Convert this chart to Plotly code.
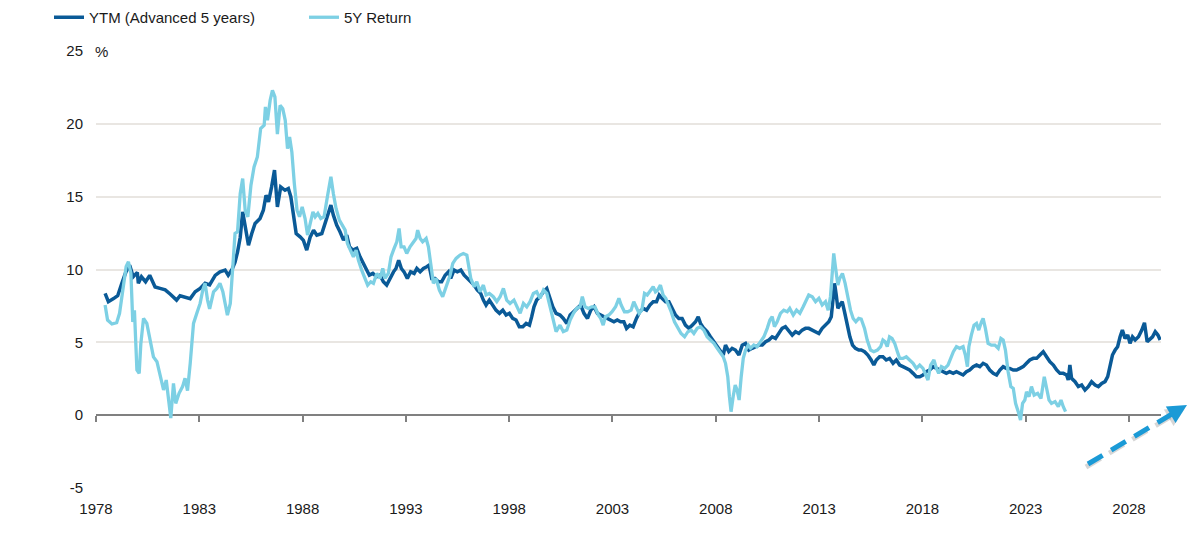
import plotly.graph_objects as go

# ---------------- data ----------------
ytm_years = [
    1978.44, 1978.60, 1978.85, 1979.05, 1979.25, 1979.45, 1979.63, 1979.80, 1980.00, 1980.05,
    1980.20, 1980.40, 1980.60, 1980.86, 1981.10, 1981.35, 1981.60, 1981.90, 1982.07, 1982.30,
    1982.56, 1982.80, 1983.04, 1983.28, 1983.50, 1983.77, 1984.00, 1984.25, 1984.40, 1984.57,
    1984.73, 1984.85, 1984.98, 1985.10, 1985.22, 1985.38, 1985.54, 1985.70, 1985.94, 1986.10,
    1986.23, 1986.35, 1986.50, 1986.64, 1986.78, 1986.94, 1987.15, 1987.31, 1987.43, 1987.56,
    1987.69, 1987.88, 1988.04, 1988.20, 1988.37, 1988.53, 1988.69, 1988.93, 1989.09, 1989.25,
    1989.37, 1989.49, 1989.65, 1989.81, 1989.98, 1990.14, 1990.27, 1990.43, 1990.62, 1990.78,
    1990.94, 1991.10, 1991.23, 1991.40, 1991.59, 1991.75, 1991.91, 1992.07, 1992.23, 1992.40,
    1992.52, 1992.65, 1992.78, 1992.91, 1993.07, 1993.23, 1993.40, 1993.53, 1993.69, 1993.85,
    1994.01, 1994.12, 1994.25, 1994.41, 1994.57, 1994.73, 1994.90, 1995.06, 1995.17, 1995.33,
    1995.49, 1995.66, 1995.82, 1995.98, 1996.14, 1996.30, 1996.46, 1996.62, 1996.75, 1996.88,
    1997.04, 1997.20, 1997.36, 1997.53, 1997.69, 1997.85, 1998.01, 1998.17, 1998.33, 1998.49,
    1998.66, 1998.82, 1998.98, 1999.09, 1999.20, 1999.33, 1999.49, 1999.66, 1999.82, 1999.95,
    2000.11, 2000.27, 2000.46, 2000.62, 2000.79, 2000.95, 2001.11, 2001.27, 2001.46, 2001.62,
    2001.79, 2001.95, 2002.11, 2002.27, 2002.43, 2002.58, 2002.74, 2002.90, 2003.07, 2003.23,
    2003.39, 2003.55, 2003.68, 2003.84, 2004.00, 2004.16, 2004.32, 2004.49, 2004.65, 2004.81,
    2004.97, 2005.13, 2005.26, 2005.40, 2005.57, 2005.73, 2005.89, 2006.05, 2006.21, 2006.37,
    2006.53, 2006.70, 2006.86, 2007.02, 2007.15, 2007.26, 2007.42, 2007.58, 2007.74, 2007.91,
    2008.07, 2008.23, 2008.36, 2008.47, 2008.63, 2008.79, 2008.95, 2009.12, 2009.28, 2009.44,
    2009.60, 2009.76, 2009.92, 2010.08, 2010.25, 2010.41, 2010.57, 2010.73, 2010.89, 2011.05,
    2011.21, 2011.37, 2011.54, 2011.70, 2011.86, 2012.02, 2012.18, 2012.34, 2012.50, 2012.67,
    2012.83, 2012.99, 2013.15, 2013.31, 2013.47, 2013.59, 2013.67, 2013.75, 2013.83, 2013.91,
    2014.00, 2014.12, 2014.23, 2014.36, 2014.49, 2014.62, 2014.76, 2014.92, 2015.04, 2015.20,
    2015.36, 2015.52, 2015.65, 2015.77, 2015.93, 2016.09, 2016.25, 2016.41, 2016.58, 2016.74,
    2016.90, 2017.06, 2017.22, 2017.38, 2017.55, 2017.71, 2017.87, 2018.03, 2018.19, 2018.35,
    2018.52, 2018.68, 2018.84, 2019.00, 2019.16, 2019.32, 2019.49, 2019.65, 2019.81, 2019.97,
    2020.13, 2020.29, 2020.46, 2020.62, 2020.78, 2020.94, 2021.10, 2021.26, 2021.43, 2021.59,
    2021.75, 2021.91, 2022.07, 2022.23, 2022.40, 2022.56, 2022.72, 2022.88, 2023.04, 2023.20,
    2023.37, 2023.53, 2023.69, 2023.85, 2024.01, 2024.17, 2024.34, 2024.50, 2024.66, 2024.82,
    2024.98, 2025.06, 2025.14, 2025.22, 2025.39, 2025.55, 2025.71, 2025.87, 2026.03, 2026.19,
    2026.36, 2026.52, 2026.68, 2026.84, 2026.97, 2027.08, 2027.20, 2027.33, 2027.45, 2027.57,
    2027.68, 2027.81, 2027.94, 2028.05, 2028.17, 2028.30, 2028.46, 2028.62, 2028.75, 2028.88,
    2029.02, 2029.14, 2029.27, 2029.40, 2029.51,
]
ytm_values = [
    8.36, 7.79, 8.00, 8.20, 9.05, 9.84, 10.30, 9.50, 9.80, 9.05,
    9.50, 9.16, 9.60, 8.80, 8.70, 8.60, 8.30, 7.90, 8.20, 8.13,
    8.00, 8.47, 8.70, 9.05, 8.94, 9.60, 9.84, 9.96, 9.60, 9.96,
    10.50, 11.20, 12.20, 13.96, 12.93, 11.67, 12.47, 13.16, 13.50, 14.07,
    15.10, 14.65, 15.67, 16.82, 14.30, 15.67, 15.44, 15.56, 15.00, 13.85,
    12.47, 12.24, 12.00, 11.33, 12.24, 12.70, 12.36, 12.47, 13.16, 13.85,
    14.42, 13.73, 13.05, 12.59, 12.02, 12.36, 11.56, 11.33, 11.45, 10.87,
    10.42, 10.07, 9.61, 9.73, 9.50, 9.61, 9.16, 8.93, 9.39, 9.84,
    10.07, 10.64, 10.07, 9.84, 9.39, 9.84, 9.73, 10.07, 9.84, 10.07,
    10.19, 10.30, 9.39, 9.39, 9.16, 9.16, 9.61, 9.84, 9.39, 9.96,
    9.84, 9.96, 9.61, 9.39, 9.16, 8.93, 8.59, 8.36, 7.90, 7.56,
    7.90, 7.56, 7.21, 6.99, 7.21, 6.87, 6.99, 6.64, 6.53, 6.07,
    6.07, 6.30, 6.18, 6.76, 7.44, 7.90, 8.13, 8.47, 8.70, 8.13,
    7.44, 6.99, 6.87, 6.64, 6.30, 6.87, 7.10, 7.33, 7.56, 6.99,
    6.64, 7.21, 7.44, 6.99, 6.87, 6.76, 6.64, 6.53, 6.41, 6.53,
    6.41, 6.41, 5.96, 6.18, 6.07, 6.64, 7.10, 7.33, 7.21, 7.56,
    7.79, 7.79, 8.25, 8.02, 7.79, 7.79, 7.33, 6.87, 6.64, 6.64,
    6.18, 5.96, 6.18, 6.41, 6.76, 6.30, 5.96, 5.73, 5.38, 5.04,
    4.70, 4.47, 4.13, 4.81, 4.36, 4.59, 4.47, 4.13, 4.81, 4.93,
    4.47, 4.59, 4.70, 4.81, 4.81, 5.04, 5.16, 5.38, 5.27, 5.61,
    5.96, 6.07, 5.73, 5.50, 5.73, 5.61, 5.84, 5.96, 5.96, 5.84,
    5.73, 5.61, 5.96, 6.18, 6.41, 6.76, 8.13, 9.05, 8.25, 7.33,
    7.56, 7.79, 7.10, 6.18, 5.38, 4.81, 4.59, 4.47, 4.47, 4.36,
    4.13, 3.79, 3.44, 3.79, 4.01, 4.01, 3.79, 3.90, 3.56, 3.79,
    3.44, 3.33, 3.21, 3.10, 2.87, 2.64, 2.64, 2.76, 2.98, 3.10,
    3.33, 3.21, 3.10, 2.98, 2.87, 2.98, 2.87, 2.98, 2.87, 2.76,
    2.98, 3.10, 3.33, 3.44, 3.33, 3.56, 3.44, 3.10, 2.87, 2.76,
    3.10, 3.33, 3.21, 3.21, 3.10, 3.10, 3.21, 3.33, 3.56, 3.79,
    3.90, 3.90, 4.13, 4.36, 4.01, 3.67, 3.44, 3.10, 2.87, 2.87,
    2.76, 2.41, 3.44, 2.53, 2.30, 1.96, 2.07, 1.73, 1.96, 2.30,
    2.07, 1.96, 2.18, 2.30, 2.64, 3.33, 4.13, 4.47, 4.70, 5.38,
    5.84, 5.27, 5.50, 4.93, 5.38, 5.16, 5.38, 5.84, 6.34, 5.04,
    5.27, 5.38, 5.73, 5.50, 5.16,
]

ret_years = [
    1978.44, 1978.56, 1978.77, 1979.00, 1979.14, 1979.30, 1979.46, 1979.57, 1979.69, 1979.78,
    1979.86, 1979.98, 1980.09, 1980.17, 1980.30, 1980.46, 1980.62, 1980.78, 1980.95, 1981.10,
    1981.27, 1981.40, 1981.50, 1981.62, 1981.75, 1981.86, 1982.02, 1982.19, 1982.31, 1982.43,
    1982.56, 1982.72, 1982.88, 1983.04, 1983.17, 1983.28, 1983.40, 1983.50, 1983.69, 1983.85,
    1984.00, 1984.14, 1984.25, 1984.36, 1984.50, 1984.62, 1984.73, 1984.85, 1984.98, 1985.10,
    1985.22, 1985.35, 1985.50, 1985.65, 1985.81, 1985.97, 1986.14, 1986.20, 1986.30, 1986.43,
    1986.54, 1986.66, 1986.78, 1986.91, 1987.04, 1987.16, 1987.27, 1987.37, 1987.48, 1987.60,
    1987.73, 1987.85, 1987.98, 1988.12, 1988.24, 1988.37, 1988.50, 1988.61, 1988.74, 1988.88,
    1989.04, 1989.20, 1989.37, 1989.49, 1989.62, 1989.78, 1989.94, 1990.06, 1990.17, 1990.33,
    1990.46, 1990.59, 1990.70, 1990.86, 1991.02, 1991.15, 1991.30, 1991.43, 1991.59, 1991.75,
    1991.88, 1991.99, 1992.15, 1992.28, 1992.43, 1992.56, 1992.67, 1992.77, 1992.91, 1993.04,
    1993.20, 1993.36, 1993.49, 1993.57, 1993.69, 1993.81, 1993.98, 1994.09, 1994.20, 1994.33,
    1994.46, 1994.62, 1994.78, 1994.90, 1995.01, 1995.14, 1995.27, 1995.43, 1995.62, 1995.78,
    1995.95, 1996.03, 1996.14, 1996.30, 1996.43, 1996.59, 1996.75, 1996.88, 1997.04, 1997.23,
    1997.40, 1997.56, 1997.72, 1997.88, 1998.04, 1998.23, 1998.40, 1998.53, 1998.69, 1998.85,
    1999.01, 1999.17, 1999.33, 1999.49, 1999.66, 1999.82, 1999.98, 2000.11, 2000.27, 2000.46,
    2000.62, 2000.79, 2000.95, 2001.11, 2001.27, 2001.43, 2001.54, 2001.67, 2001.83, 2001.99,
    2002.15, 2002.32, 2002.43, 2002.55, 2002.66, 2002.82, 2002.98, 2003.15, 2003.31, 2003.42,
    2003.58, 2003.74, 2003.90, 2004.03, 2004.16, 2004.29, 2004.42, 2004.55, 2004.68, 2004.81,
    2004.97, 2005.08, 2005.19, 2005.32, 2005.45, 2005.58, 2005.73, 2005.84, 2006.00, 2006.16,
    2006.32, 2006.49, 2006.65, 2006.81, 2006.94, 2007.10, 2007.26, 2007.42, 2007.58, 2007.74,
    2007.91, 2008.07, 2008.23, 2008.36, 2008.47, 2008.58, 2008.66, 2008.74, 2008.84, 2008.94,
    2009.03, 2009.13, 2009.23, 2009.33, 2009.44, 2009.57, 2009.68, 2009.84, 2010.00, 2010.16,
    2010.33, 2010.49, 2010.62, 2010.73, 2010.84, 2010.97, 2011.13, 2011.29, 2011.46, 2011.58,
    2011.75, 2011.91, 2012.07, 2012.23, 2012.39, 2012.50, 2012.67, 2012.83, 2012.99, 2013.15,
    2013.31, 2013.44, 2013.55, 2013.63, 2013.71, 2013.79, 2013.91, 2014.00, 2014.13, 2014.26,
    2014.39, 2014.52, 2014.65, 2014.78, 2014.92, 2015.04, 2015.20, 2015.33, 2015.49, 2015.65,
    2015.82, 2015.98, 2016.09, 2016.20, 2016.30, 2016.41, 2016.53, 2016.66, 2016.79, 2016.90,
    2017.06, 2017.22, 2017.38, 2017.55, 2017.71, 2017.87, 2018.03, 2018.16, 2018.27, 2018.40,
    2018.56, 2018.68, 2018.79, 2018.92, 2019.08, 2019.24, 2019.37, 2019.50, 2019.65, 2019.81,
    2019.97, 2020.08, 2020.18, 2020.25, 2020.37, 2020.50, 2020.62, 2020.73, 2020.86, 2020.94,
    2021.05, 2021.18, 2021.34, 2021.51, 2021.67, 2021.80, 2021.91, 2022.02, 2022.15, 2022.28,
    2022.40, 2022.51, 2022.64, 2022.75, 2022.85, 2022.96, 2023.04, 2023.16, 2023.28, 2023.41,
    2023.58, 2023.74, 2023.90, 2024.01, 2024.13, 2024.25, 2024.42, 2024.58, 2024.71, 2024.82,
    2024.93,
]
ret_values = [
    7.56, 6.53, 6.26, 6.35, 6.99, 8.60, 10.20, 10.53, 9.73, 6.40,
    7.20, 3.10, 2.87, 4.90, 6.64, 6.30, 5.27, 4.00, 3.67, 2.64,
    1.73, 2.41, 1.04, -0.20, 2.18, 0.81, 1.50, 1.96, 2.53, 1.68,
    3.56, 6.30, 6.99, 7.67, 8.60, 9.05, 7.90, 7.30, 8.47, 8.70,
    9.05, 8.47, 7.67, 6.87, 7.67, 9.96, 12.47, 12.59, 15.20, 16.24,
    14.07, 13.62, 15.79, 17.04, 17.73, 19.67, 19.90, 21.16, 20.24, 21.62,
    22.30, 21.85, 19.30, 21.27, 21.04, 20.24, 18.30, 19.10, 18.07, 15.90,
    14.07, 13.62, 14.30, 13.50, 12.36, 13.16, 13.96, 13.62, 13.85, 13.50,
    13.62, 15.00, 16.36, 15.20, 14.19, 13.39, 12.93, 12.70, 11.79, 11.33,
    10.87, 11.33, 10.64, 9.96, 9.39, 8.93, 9.16, 9.05, 9.73, 9.39,
    10.07, 9.39, 9.73, 10.87, 11.45, 11.90, 12.82, 11.56, 11.56, 11.10,
    11.56, 11.90, 12.13, 12.70, 12.13, 11.90, 12.13, 11.56, 10.42, 9.05,
    9.39, 8.59, 8.13, 8.59, 9.16, 9.61, 10.42, 10.76, 10.99, 11.10,
    10.99, 10.19, 9.39, 8.82, 9.16, 8.47, 8.93, 8.25, 8.36, 8.13,
    7.79, 8.13, 8.70, 7.90, 7.67, 7.90, 7.44, 6.99, 7.67, 7.44,
    7.79, 8.36, 8.47, 8.02, 8.59, 8.36, 7.44, 6.76, 5.73, 6.18,
    5.73, 5.84, 6.53, 6.99, 7.33, 7.44, 8.13, 7.44, 7.33, 7.44,
    7.44, 6.87, 6.64, 6.18, 6.76, 6.87, 7.10, 7.44, 8.02, 7.56,
    7.10, 7.10, 7.21, 7.79, 7.33, 6.99, 7.21, 8.36, 8.25, 8.47,
    8.82, 8.47, 8.59, 8.93, 8.25, 8.02, 7.56, 7.10, 6.41, 5.96,
    5.61, 5.38, 5.73, 5.84, 5.61, 5.96, 6.07, 5.84, 5.38, 5.16,
    4.93, 4.59, 4.24, 4.01, 3.56, 2.64, 1.27, 0.24, 1.27, 2.07,
    1.73, 1.04, 2.64, 3.90, 4.47, 4.81, 4.59, 4.81, 4.70, 5.04,
    5.38, 5.96, 6.53, 6.76, 6.07, 6.41, 6.99, 7.21, 7.10, 7.33,
    6.87, 7.21, 6.99, 7.44, 7.90, 8.25, 8.13, 7.79, 8.02, 7.56,
    7.79, 7.21, 8.13, 9.96, 11.10, 10.19, 8.93, 9.39, 9.73, 9.05,
    8.13, 7.21, 6.64, 6.41, 6.64, 6.60, 5.96, 5.16, 4.47, 4.36,
    4.47, 4.70, 5.16, 5.04, 4.70, 5.38, 5.27, 4.93, 4.36, 3.90,
    3.90, 4.01, 3.79, 3.56, 3.21, 3.44, 3.21, 2.76, 2.41, 3.44,
    3.79, 3.21, 2.87, 3.33, 3.21, 3.44, 3.90, 4.36, 4.70, 4.59,
    4.70, 4.13, 3.33, 4.70, 5.50, 6.18, 6.30, 5.84, 6.41, 6.64,
    5.96, 4.93, 4.81, 4.81, 4.59, 5.27, 5.16, 4.47, 2.98, 1.96,
    1.84, 0.81, 0.24, -0.33, 0.81, 1.04, 1.61, 1.27, 1.96, 1.38,
    1.50, 1.15, 2.64, 1.96, 1.04, 0.81, 0.93, 0.58, 1.04, 0.58,
    0.24,
]

series_names = ["YTM (Advanced 5 years)", "5Y Return"]
x_ticks = [1978, 1983, 1988, 1993, 1998, 2003, 2008, 2013, 2018, 2023, 2028]
y_ticks = [-5, 0, 5, 10, 15, 20, 25]
y_tick_labels = ["-5", "0", "5", "10", "15", "20", "25"]

# ---------------- layout geometry ----------------
# The page body has an 8px margin, so the figure sits at (8, 8) in the screenshot.
OFF = 8
W, H = 1192, 538
ML, MT = 88, 43          # plot left/top inside the figure
PW, PH = 1065, 437       # plot width/height
MR = W - ML - PW
MB = H - MT - PH


def px(x):
    """screenshot x pixel -> paper fraction"""
    return (x - OFF - ML) / PW


def py(y):
    """screenshot y pixel -> paper fraction"""
    return (MT + PH - (y - OFF)) / PH


DARK = "#0a5a97"
LIGHT = "#7dd0e4"
ARROW = "#1b9ad6"
FONT = "Liberation Sans, Arial, sans-serif"
TXT = "#1a1a1a"

fig = go.Figure()
fig.add_trace(go.Scatter(
    x=ytm_years, y=ytm_values, mode="lines", name=series_names[0],
    line=dict(color=DARK, width=3.5), xaxis="x", yaxis="y",
))
fig.add_trace(go.Scatter(
    x=ret_years, y=ret_values, mode="lines", name=series_names[1],
    line=dict(color=LIGHT, width=3.3), xaxis="x2", yaxis="y",
))

xr = [1978, 2029.55]

# arrow (dashed) at lower right
tip = (1187, 405)
start = (1088, 464)
dx, dy = tip[0] - start[0], tip[1] - start[1]
L = (dx ** 2 + dy ** 2) ** 0.5
ux, uy = dx / L, dy / L
nx, ny = -uy, ux
head_len, head_half = 19, 9.5
bx, by = tip[0] - head_len * ux, tip[1] - head_len * uy
c1 = (bx + head_half * nx, by + head_half * ny)
c2 = (bx - head_half * nx, by - head_half * ny)
line_end = (bx + 2 * ux, by + 2 * uy)


def tri_path(off=(0, 0)):
    pts = [tip, c1, c2]
    pts = [(p[0] + off[0], p[1] + off[1]) for p in pts]
    return "M {} {} L {} {} L {} {} Z".format(
        px(pts[0][0]), py(pts[0][1]), px(pts[1][0]), py(pts[1][1]),
        px(pts[2][0]), py(pts[2][1]))


shapes = []
shadow_off = (-2, 3)
shapes.append(dict(type="line", xref="paper", yref="paper",
                   x0=px(start[0] + shadow_off[0]), y0=py(start[1] + shadow_off[1]),
                   x1=px(line_end[0] + shadow_off[0]), y1=py(line_end[1] + shadow_off[1]),
                   line=dict(color="rgba(90,90,90,0.25)", width=5, dash="17px,10px")))
shapes.append(dict(type="path", xref="paper", yref="paper", path=tri_path(shadow_off),
                   fillcolor="rgba(90,90,90,0.25)", line=dict(width=0)))
shapes.append(dict(type="line", xref="paper", yref="paper",
                   x0=px(start[0]), y0=py(start[1]), x1=px(line_end[0]), y1=py(line_end[1]),
                   line=dict(color=ARROW, width=5, dash="17px,10px")))
shapes.append(dict(type="path", xref="paper", yref="paper", path=tri_path(),
                   fillcolor=ARROW, line=dict(width=0)))

fig.update_layout(
    width=W, height=H,
    margin=dict(l=ML, r=MR, t=MT, b=MB, autoexpand=False),
    paper_bgcolor="white", plot_bgcolor="white",
    font=dict(family=FONT, size=15, color=TXT),
    showlegend=True,
    legend=dict(orientation="h", x=px(49), y=py(1), xanchor="left", yanchor="top",
                font=dict(size=15, color=TXT), bgcolor="rgba(0,0,0,0)",
                itemwidth=30, entrywidth=210, tracegroupgap=0),
    xaxis=dict(range=xr, tickmode="array", tickvals=x_ticks,
               ticktext=[str(t) for t in x_ticks],
               showgrid=False, zeroline=False, showline=False, ticks="",
               tickfont=dict(size=15, color=TXT), ticklabelstandoff=10, fixedrange=True),
    xaxis2=dict(range=xr, overlaying="x", anchor="free", position=5 / 30,
                tickmode="array", tickvals=x_ticks, showticklabels=False,
                ticks="outside", ticklen=6, tickwidth=1.5, tickcolor="#808080",
                showline=True, linecolor="#808080", linewidth=2,
                showgrid=False, zeroline=False, layer="below traces"),
    yaxis=dict(range=[-5, 25], tickmode="array", tickvals=y_ticks,
               ticktext=y_tick_labels,
               showgrid=True, gridcolor="#e9e6e2", gridwidth=1.5,
               zeroline=False, showline=False, ticks="",
               tickfont=dict(size=15, color=TXT), ticklabelstandoff=12),
    shapes=shapes,
    annotations=[dict(text="%", xref="paper", yref="y", x=px(93), y=25,
                      xanchor="left", yanchor="middle", showarrow=False,
                      bgcolor="white", borderpad=1,
                      font=dict(size=15, color=TXT))],
)

fig.write_html("out.html")
